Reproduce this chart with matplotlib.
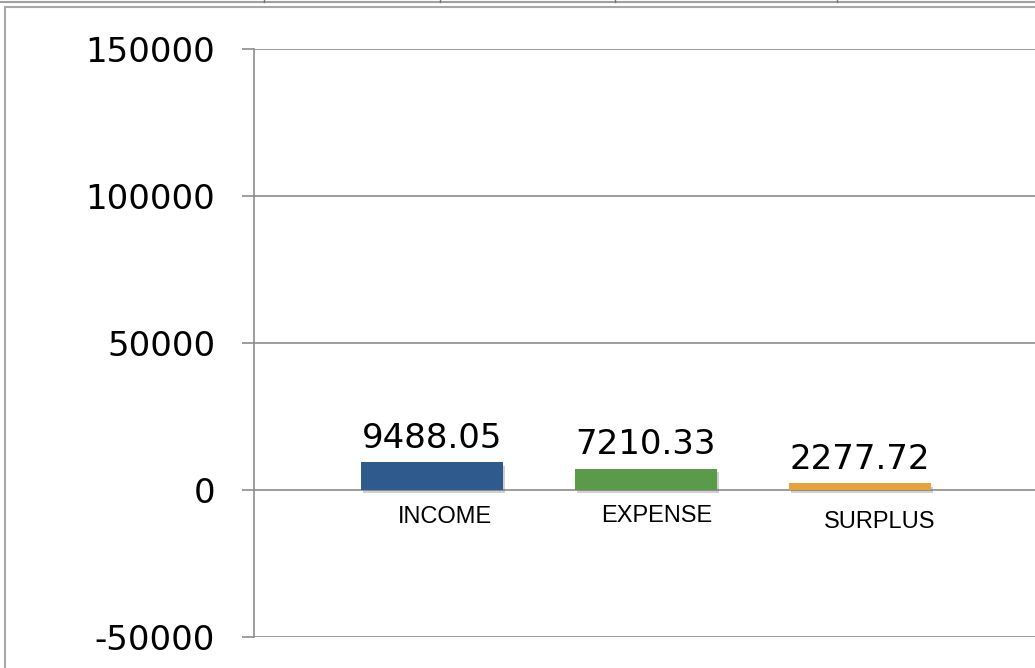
import matplotlib
matplotlib.use("Agg")
import matplotlib.pyplot as plt
from matplotlib.lines import Line2D
import matplotlib.patheffects as pe

categories = ["INCOME", "EXPENSE", "SURPLUS"]
values = [9488.05, 7210.33, 2277.72]
value_labels = ["9488.05", "7210.33", "2277.72"]
colors = ["#2E5A8E", "#5B9A48", "#E8A23C"]
yticks = [-50000, 0, 50000, 100000, 150000]
ytick_labels = ["-50000", "0", "50000", "100000", "150000"]

W, H = 1035, 668
fig = plt.figure(figsize=(W / 100, H / 100), dpi=100)
plt.rcParams['font.family'] = ['Liberation Sans', 'DejaVu Sans']
NUMFONT = ['DejaVu Sans']

left, right, top, bottom = 254, 1035, 49, 637
ax = fig.add_axes([left / W, 1 - bottom / H, (right - left) / W, (bottom - top) / H])

x = list(range(len(categories)))
bars = ax.bar(x, values, width=0.66, color=colors, zorder=3,
              path_effects=[pe.SimplePatchShadow(offset=(1.5, -2.5), shadow_rgbFace='#666666', alpha=0.3),
                            pe.Normal()])

ax.set_xlim(-0.832, 2.818)
ax.set_ylim(-50000, 150000)
ax.set_yticks(yticks)
ax.set_yticklabels(ytick_labels, fontsize=24.5, family=NUMFONT)
ax.set_xticks([])
ax.yaxis.grid(True, color='#8c8c8c', linewidth=1.2, zorder=0)
ax.tick_params(axis='y', length=9, width=1.2, color='#8c8c8c', pad=19)
for s in ['top', 'right', 'bottom']:
    ax.spines[s].set_visible(False)
ax.spines['left'].set_color('#8c8c8c')
ax.spines['left'].set_linewidth(1.2)

for xi, v, lab in zip(x, values, value_labels):
    ax.annotate(lab, (xi, v), xytext=(0, 10.5), textcoords='offset points',
                ha='center', va='baseline', fontsize=24.5, family=NUMFONT)

cat_offsets = [(9.4, -11.5), (8, -10.5), (14.4, -15)]
for xi, cat, (dx, dy) in zip(x, categories, cat_offsets):
    ax.annotate(cat, (xi, 0), xytext=(dx, dy), textcoords='offset points',
                ha='center', va='top', fontsize=17)

# outer frame pieces
def fl(x0, y0, x1, y1, **kw):
    fig.add_artist(Line2D([x0 / W, x1 / W], [1 - y0 / H, 1 - y1 / H], transform=fig.transFigure, **kw))

fl(0, 1.5, W, 1.5, color='#a0a0a0', lw=1.5)
fl(5, 6.5, W, 6.5, color='#a8a8a8', lw=1.5)
fl(5, 6.5, 5, H, color='#a8a8a8', lw=1.5)
for xv in [264, 440, 615, 837]:
    fl(xv, 0, xv, 2, color='#777777', lw=1)

fig.savefig("out.png", dpi=100)
